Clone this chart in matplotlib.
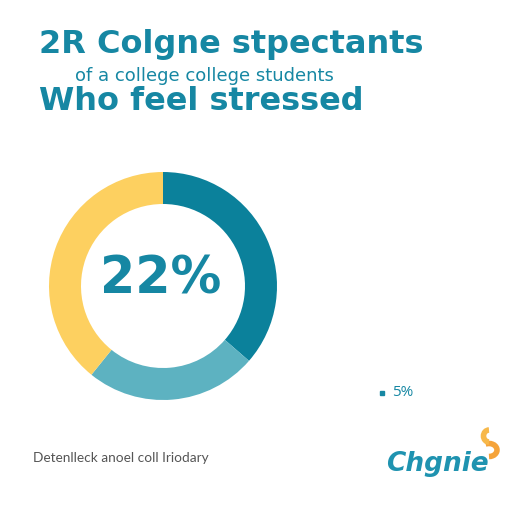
import matplotlib.pyplot as plt
from matplotlib.patches import Arc

segments = ["Stressed", "Somewhat", "Not stressed"]
shares = [36.4, 24.4, 39.2]
seg_colors = ["#0b819b", "#5db2c1", "#fdd060"]

center_label = "22%"
side_label = "5%"
title_lines = ["2R Colgne stpectants", "of a college college students", "Who feel stressed"]
footer = "Detenlleck anoel coll Iriodary"
brand = "Chgnie"

teal = "#1687a3"

fig = plt.figure(figsize=(5.12, 5.12), dpi=100)
ax = fig.add_axes([0, 0, 1, 1])

ax.pie(shares, colors=seg_colors, startangle=90, counterclock=False,
       center=(163, 226), radius=114, frame=True,
       wedgeprops=dict(width=32, linewidth=0))
ax.set_xlim(0, 512)
ax.set_ylim(0, 512)
ax.set_aspect("equal")
ax.axis("off")

ax.text(161, 233, center_label, ha="center", va="center", fontsize=36.5,
        fontweight="bold", color=teal, family="DejaVu Sans")

# header
ax.text(39, 467, title_lines[0], ha="left", va="center", fontsize=23,
        fontweight="bold", color=teal, family="DejaVu Sans")
ax.text(75, 436, title_lines[1], ha="left", va="center", fontsize=13,
        color=teal, family="DejaVu Sans")
ax.text(39, 410, title_lines[2], ha="left", va="center", fontsize=23,
        fontweight="bold", color=teal, family="DejaVu Sans")

# small side note
ax.plot([382], [119], marker="s", ms=3, color=teal)
ax.text(392, 120, side_label, ha="left", va="center", fontsize=11,
        color=teal, family="Open Sans")

# footer and logo
ax.text(33, 54, footer, ha="left", va="center", fontsize=9.8,
        color="#555555", family="Lato")
ax.text(386, 48, brand, ha="left", va="center", fontsize=19,
        fontweight="bold", style="italic", color="#1f93b0", family="DejaVu Sans")
ax.add_patch(Arc((489, 62), 16, 13, theta1=-90, theta2=120, lw=4, color="#f5a33a"))
ax.add_patch(Arc((489, 76), 11, 12, theta1=90, theta2=270, lw=4, color="#f7b84a"))

fig.savefig("out.png", dpi=100, facecolor="white")
